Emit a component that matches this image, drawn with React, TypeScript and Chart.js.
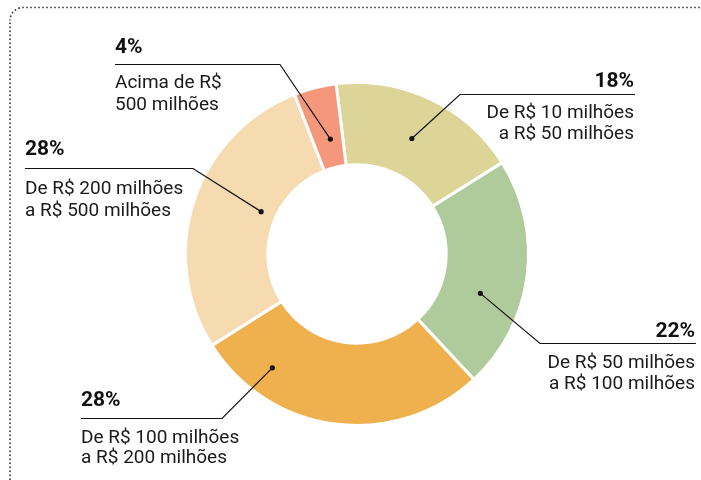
import React, { useEffect, useRef } from "react";
import { Chart, registerables } from "chart.js";

Chart.register(...registerables);

const categories: string[][] = [
  ["De R$ 10 milhões", "a R$ 50 milhões"],
  ["De R$ 50 milhões", "a R$ 100 milhões"],
  ["De R$ 100 milhões", "a R$ 200 milhões"],
  ["De R$ 200 milhões", "a R$ 500 milhões"],
  ["Acima de R$", "500 milhões"],
];
const shares: number[] = [18, 22, 28, 28, 4];
const colors: string[] = ["#DCD597", "#AFCB9B", "#EEB14D", "#F6DBB1", "#F5977A"];

// Label layout (positions of annotation text, not data)
type LabelLayout = {
  align: "left" | "right";
  x: number;
  lineY: number;
  elbowX: number;
  pctY: number;
  l1: number;
  l2: number;
  frac: number;
  rFrac: number;
};
const labelLayout: LabelLayout[] = [
  { align: "right", x: 634, lineY: 94.5, elbowX: 460, pctY: 87, l1: 118, l2: 139, frac: 0.5, rFrac: 0.47 },
  { align: "right", x: 695, lineY: 343.5, elbowX: 540, pctY: 337, l1: 368, l2: 389, frac: 0.63, rFrac: 0.49 },
  { align: "left", x: 81, lineY: 418.5, elbowX: 222, pctY: 406, l1: 443, l2: 463, frac: 0.79, rFrac: 0.64 },
  { align: "left", x: 25, lineY: 168.5, elbowX: 193, pctY: 155, l1: 194, l2: 216, frac: 0.556, rFrac: 0.19 },
  { align: "left", x: 115, lineY: 64.5, elbowX: 280, pctY: 53, l1: 88, l2: 110, frac: 0.58, rFrac: 0.35 },
];

const FONT = "Roboto, 'DejaVu Sans', sans-serif";

const annotationPlugin = {
  id: "annotations",
  afterDraw(chart: any) {
    const ctx: CanvasRenderingContext2D = chart.ctx;
    ctx.save();
    // dotted frame
    ctx.strokeStyle = "#333";
    ctx.lineWidth = 1.6;
    ctx.setLineDash([1.6, 2.4]);
    ctx.beginPath();
    ctx.moveTo(10, 480);
    ctx.lineTo(10, 20);
    ctx.arcTo(10, 7.5, 23, 7.5, 13);
    ctx.lineTo(701, 7.5);
    ctx.stroke();
    ctx.setLineDash([]);

    const meta = chart.getDatasetMeta(0);
    meta.data.forEach((el: any, i: number) => {
      const L = labelLayout[i];
      const p = el.getProps(["x", "y", "startAngle", "endAngle", "innerRadius", "outerRadius"], true);
      const a = p.startAngle + L.frac * (p.endAngle - p.startAngle);
      const r = p.innerRadius + L.rFrac * (p.outerRadius - p.innerRadius);
      const dx = p.x + r * Math.cos(a);
      const dy = p.y + r * Math.sin(a);

      ctx.strokeStyle = "#111";
      ctx.lineWidth = 1.2;
      ctx.beginPath();
      if (L.align === "left") {
        ctx.moveTo(L.x, L.lineY);
      } else {
        ctx.moveTo(L.x + 1, L.lineY);
      }
      ctx.lineTo(L.elbowX, L.lineY);
      ctx.lineTo(dx, dy);
      ctx.stroke();
      ctx.fillStyle = "#111";
      ctx.beginPath();
      ctx.arc(dx, dy, 2.6, 0, Math.PI * 2);
      ctx.fill();

      ctx.textAlign = L.align;
      ctx.textBaseline = "alphabetic";
      ctx.fillStyle = "#111";
      ctx.font = `bold 21px ${FONT}`;
      ctx.fillText(`${shares[i]}%`, L.x, L.pctY);
      ctx.fillStyle = "#1a1a1a";
      ctx.font = `19px ${FONT}`;
      ctx.fillText(categories[i][0], L.x, L.l1);
      ctx.fillText(categories[i][1], L.x, L.l2);
    });
    ctx.restore();
  },
};

export default function App() {
  const ref = useRef<HTMLCanvasElement | null>(null);
  useEffect(() => {
    if (!ref.current) return;
    const chart = new Chart(ref.current, {
      type: "doughnut",
      data: {
        labels: categories.map((c) => c.join(" ")),
        datasets: [
          {
            data: shares,
            backgroundColor: colors,
            borderColor: "#ffffff",
            borderWidth: 3,
          },
        ],
      },
      options: {
        animation: false,
        responsive: false,
        rotation: -7,
        cutout: "52%",
        layout: { padding: { top: 81, bottom: 53, left: 184, right: 171 } },
        plugins: { legend: { display: false }, tooltip: { enabled: false } },
        events: [],
      },
      plugins: [annotationPlugin],
    });
    return () => chart.destroy();
  }, []);
  return (
    <div style={{ position: "fixed", left: 0, top: 0, width: 701, height: 480, background: "#fff" }}>
      <canvas ref={ref} width={701} height={480} style={{ width: 701, height: 480, display: "block" }} />
    </div>
  );
}
